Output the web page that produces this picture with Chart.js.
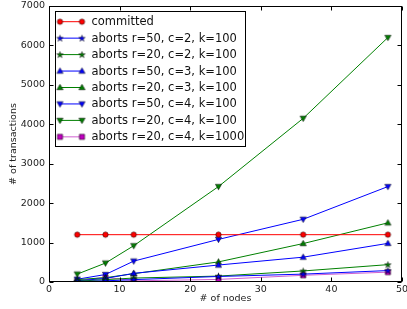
<!DOCTYPE html>
<html>
<head>
<meta charset="utf-8">
<script src="https://cdn.jsdelivr.net/npm/chart.js@4/dist/chart.umd.min.js"></script>
<style>
  html, body { margin: 0; padding: 0; background: #fff; }
  canvas { display: block; }
</style>
</head>
<body>
<canvas id="chart" width="407" height="309"></canvas>
<script>
'use strict';

// x values (# of nodes)
var nodes = [4, 8, 12, 24, 36, 48];

// series (# of transactions)
var committed     = [1200, 1200, 1200, 1200, 1200, 1200];
var r50c2k100     = [10, 30, 60, 140, 200, 290];
var r20c2k100     = [20, 60, 100, 150, 280, 440];
var r50c3k100     = [30, 90, 220, 430, 630, 980];
var r20c3k100     = [60, 110, 210, 510, 975, 1500];
var r50c4k100     = [70, 190, 530, 1080, 1590, 2420];
var r20c4k100     = [200, 480, 920, 2420, 4150, 6200];
var r20c4k1000    = [30, 120, 30, 65, 170, 250];

var seriesLabels = [
    'committed',
    'aborts r=50, c=2, k=100',
    'aborts r=20, c=2, k=100',
    'aborts r=50, c=3, k=100',
    'aborts r=20, c=3, k=100',
    'aborts r=50, c=4, k=100',
    'aborts r=20, c=4, k=100',
    'aborts r=20, c=4, k=1000'
];

var xTicks = [0, 10, 20, 30, 40, 50];
var yTicks = [0, 1000, 2000, 3000, 4000, 5000, 6000, 7000];

var RED = '#ff0000', BLUE = '#0000ff', GREEN = '#008000', MAG = '#bf00bf';

// build a small marker image, matplotlib style (filled, thin black edge)
function makeMarker(shape, fill) {
    var size = 9, c = document.createElement('canvas');
    c.width = size; c.height = size;
    var ctx = c.getContext('2d'), m = size / 2;
    ctx.beginPath();
    if (shape == 'circle') {
        ctx.arc(m, m, 2.7, 0, Math.PI * 2);
    } else if (shape == 'square') {
        ctx.rect(m - 2.6, m - 2.6, 5.2, 5.2);
    } else if (shape == 'up') {
        ctx.moveTo(m, m - 3.2); ctx.lineTo(m + 3.1, m + 2.3); ctx.lineTo(m - 3.1, m + 2.3);
    } else if (shape == 'down') {
        ctx.moveTo(m, m + 3.2); ctx.lineTo(m + 3.1, m - 2.3); ctx.lineTo(m - 3.1, m - 2.3);
    } else if (shape == 'star') {
        for (var i = 0; i < 10; i++) {
            var r = i % 2 ? 1.3 : 3.3;
            var a = -Math.PI / 2 + i * Math.PI / 5;
            var px = m + r * Math.cos(a), py = m + 0.3 + r * Math.sin(a);
            if (i === 0) ctx.moveTo(px, py); else ctx.lineTo(px, py);
        }
    }
    ctx.closePath();
    ctx.fillStyle = fill;
    ctx.fill();
    ctx.lineWidth = 0.5;
    ctx.strokeStyle = '#000';
    ctx.stroke();
    return c;
}

var seriesData = [committed, r50c2k100, r20c2k100, r50c3k100, r20c3k100, r50c4k100, r20c4k100, r20c4k1000];
var lineColors = [RED, BLUE, GREEN, BLUE, GREEN, BLUE, GREEN, '#d060d0'];
var markers = [
    makeMarker('circle', RED),
    makeMarker('star', BLUE),
    makeMarker('star', GREEN),
    makeMarker('up', BLUE),
    makeMarker('up', GREEN),
    makeMarker('down', BLUE),
    makeMarker('down', GREEN),
    makeMarker('square', MAG)
];

function toPoints(values) {
    return values.map(function(v, i) { return {x: nodes[i], y: v}; });
}

var datasets = seriesData.map(function(values, i) {
    return {
        label: seriesLabels[i],
        data: toPoints(values),
        borderColor: lineColors[i],
        backgroundColor: lineColors[i],
        borderWidth: 1,
        pointStyle: markers[i],
        pointRadius: 3,
        tension: 0,
        fill: false
    };
});

var TICK_FONT = {family: "'DejaVu Sans'", size: 9.5};

function plainNumber(v) { return String(v); }

// frame + inward ticks on all four sides
var framePlugin = {
    id: 'frame',
    afterDatasetsDraw: function(chart) {
        var ctx = chart.ctx, a = chart.chartArea;
        var xs = chart.scales.x, ys = chart.scales.y;
        var L = Math.round(a.left) + 0.5, R = Math.round(a.right) - 0.5;
        var T = Math.round(a.top) + 0.5, B = Math.round(a.bottom) - 0.5;
        ctx.save();
        ctx.strokeStyle = '#000';
        ctx.lineWidth = 1;
        ctx.strokeRect(L, T, R - L, B - T);
        ctx.beginPath();
        xTicks.forEach(function(v) {
            var x = Math.round(xs.getPixelForValue(v)) + 0.5;
            ctx.moveTo(x, B); ctx.lineTo(x, B - 4);
            ctx.moveTo(x, T); ctx.lineTo(x, T + 4);
        });
        yTicks.forEach(function(v) {
            var y = Math.round(ys.getPixelForValue(v)) + 0.5;
            ctx.moveTo(L, y); ctx.lineTo(L + 4, y);
            ctx.moveTo(R, y); ctx.lineTo(R - 4, y);
        });
        ctx.stroke();
        ctx.restore();
    }
};

// boxed legend in the upper left, with line + two markers per entry
var legendPlugin = {
    id: 'mplLegend',
    afterDraw: function(chart) {
        var ctx = chart.ctx;
        var bx = 55.5, by = 11.5, bw = 190, bh = 135;
        ctx.save();
        ctx.fillStyle = '#fff';
        ctx.fillRect(bx, by, bw, bh);
        ctx.strokeStyle = '#000';
        ctx.lineWidth = 1;
        ctx.strokeRect(bx, by, bw, bh);
        ctx.font = "11.5px 'DejaVu Sans'";
        ctx.textBaseline = 'middle';
        ctx.textAlign = 'left';
        for (var i = 0; i < seriesLabels.length; i++) {
            var y = 21.7 + i * 16.45;
            ctx.beginPath();
            ctx.strokeStyle = lineColors[i];
            ctx.moveTo(60, y); ctx.lineTo(82, y);
            ctx.stroke();
            var mk = markers[i];
            ctx.drawImage(mk, 60 - mk.width / 2, y - mk.height / 2);
            ctx.drawImage(mk, 82 - mk.width / 2, y - mk.height / 2);
            ctx.fillStyle = '#111';
            ctx.fillText(seriesLabels[i], 91.5, y + 0.5);
        }
        ctx.restore();
    }
};

new Chart(document.getElementById('chart'), {
    type: 'line',
    data: {datasets: datasets},
    plugins: [framePlugin, legendPlugin],
    options: {
        responsive: false,
        animation: false,
        devicePixelRatio: 1,
        layout: {padding: {top: 6, right: 4, left: 0, bottom: 0}},
        plugins: {
            legend: {display: false},
            tooltip: {enabled: false}
        },
        scales: {
            x: {
                type: 'linear',
                min: 0, max: 50,
                grid: {display: false, drawTicks: false},
                border: {display: false},
                ticks: {stepSize: 10, color: '#222', font: TICK_FONT, padding: 2, maxRotation: 0, callback: plainNumber},
                title: {display: true, text: '# of nodes', color: '#222', font: TICK_FONT, padding: {top: 0, bottom: 5}},
                afterFit: function(scale) {
                    scale.height = 27;
                    scale.paddingLeft = 0;
                    scale.paddingRight = 0;
                }
            },
            y: {
                type: 'linear',
                min: 0, max: 7000,
                grid: {display: false, drawTicks: false},
                border: {display: false},
                ticks: {stepSize: 1000, color: '#222', font: TICK_FONT, padding: 4, callback: plainNumber},
                title: {display: true, text: '# of transactions', color: '#222', font: TICK_FONT, padding: {top: 8, bottom: 0}},
                afterFit: function(scale) {
                    scale.width = 49;
                    scale.paddingTop = 0;
                    scale.paddingBottom = 0;
                }
            }
        }
    }
});
</script>
</body>
</html>
